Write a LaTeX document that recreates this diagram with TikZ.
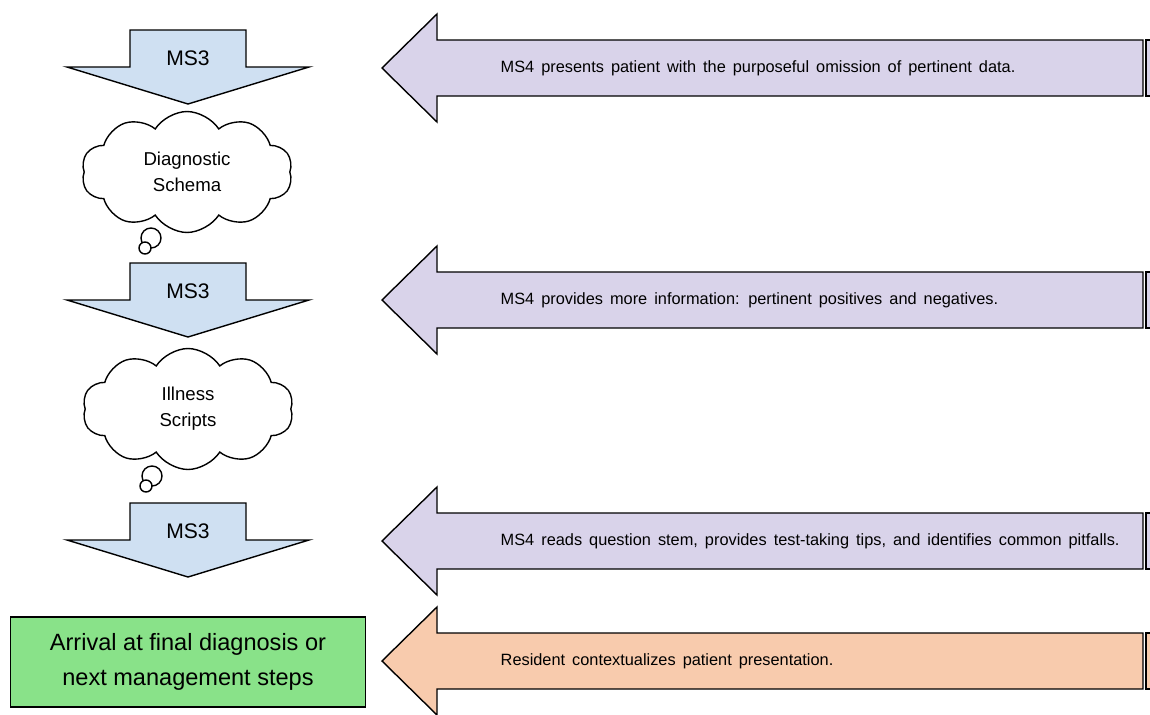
\documentclass[tikz,border=0pt]{standalone}
\usepackage{fontspec}
\setmainfont{Liberation Sans}
\usetikzlibrary{shapes.symbols,positioning}
\definecolor{msblue}{RGB}{207,224,242}
\definecolor{mspurple}{RGB}{217,211,234}
\definecolor{resorange}{RGB}{248,203,173}
\definecolor{dxgreen}{RGB}{137,226,137}
\newcommand{\widewords}{\spaceskip=4pt\relax}

\begin{document}
\begin{tikzpicture}[x=0.02cm, y=-0.02cm, line width=0.8pt,
  thought/.style={draw, fill=white, cloud, cloud puffs=10, cloud puff arc=115,
    cloud ignores aspect, minimum width=4.22cm, minimum height=2.42cm,
    align=center, font=\fontsize{10.6}{15}\selectfont},
  ms3text/.style={font=\fontsize{12}{14}\selectfont},
  ms4text/.style={anchor=west, inner sep=0pt, font=\fontsize{9.3}{11}\selectfont}]
\useasboundingbox (0,0) rectangle (1150,714);
\clip (0,0) rectangle (1150,714);

% MS3 down arrows
\foreach \t/\name in {30/msa, 263/msb, 503/msc} {
    \draw[fill=msblue] (130,\t) -- (246,\t) -- (246,\t+37) -- (309,\t+37)
        -- (188,\t+74) -- (67,\t+37) -- (130,\t+37) -- cycle;
    \node[ms3text] (\name) at (188,\t+28) {MS3};
}

% Left arrows with teaching steps
\foreach \c/\col/\name/\txt in {
    68/mspurple/teacha/{MS4 presents patient with the purposeful omission of pertinent data.},
    300/mspurple/teachb/{MS4 provides more information: pertinent positives and negatives.},
    541/mspurple/teachc/{MS4 reads question stem, provides test-taking tips, and identifies common pitfalls.},
    661/resorange/teachd/{Resident contextualizes patient presentation.}} {
    \draw[fill=\col] (382,\c) -- (437,\c-54) -- (437,\c-28) -- (1143,\c-28)
        -- (1143,\c+28) -- (437,\c+28) -- (437,\c+54) -- cycle;
    \draw[fill=\col] (1146,\c-28) rectangle (1170,\c+28);
    \node[ms4text] (\name) at (500,\c) {\widewords\txt};
}

% Thought clouds
\node[thought] (schema) at (187,172) {Diagnostic\\Schema};
\draw[fill=white] (151,238) circle (0.2cm);
\draw[fill=white] (145,248) circle (0.12cm);

\node[thought] (scripts) at (188,409) {Illness\\Scripts};
\draw[fill=white] (152,476) circle (0.2cm);
\draw[fill=white] (146,486) circle (0.12cm);

% Final step
\node[draw, fill=dxgreen, minimum width=7.1cm, minimum height=1.8cm, align=center,
    font=\fontsize{13.4}{20}\selectfont] (final) at (188,662)
    {Arrival at final diagnosis or\\next management steps};
\end{tikzpicture}
\end{document}
